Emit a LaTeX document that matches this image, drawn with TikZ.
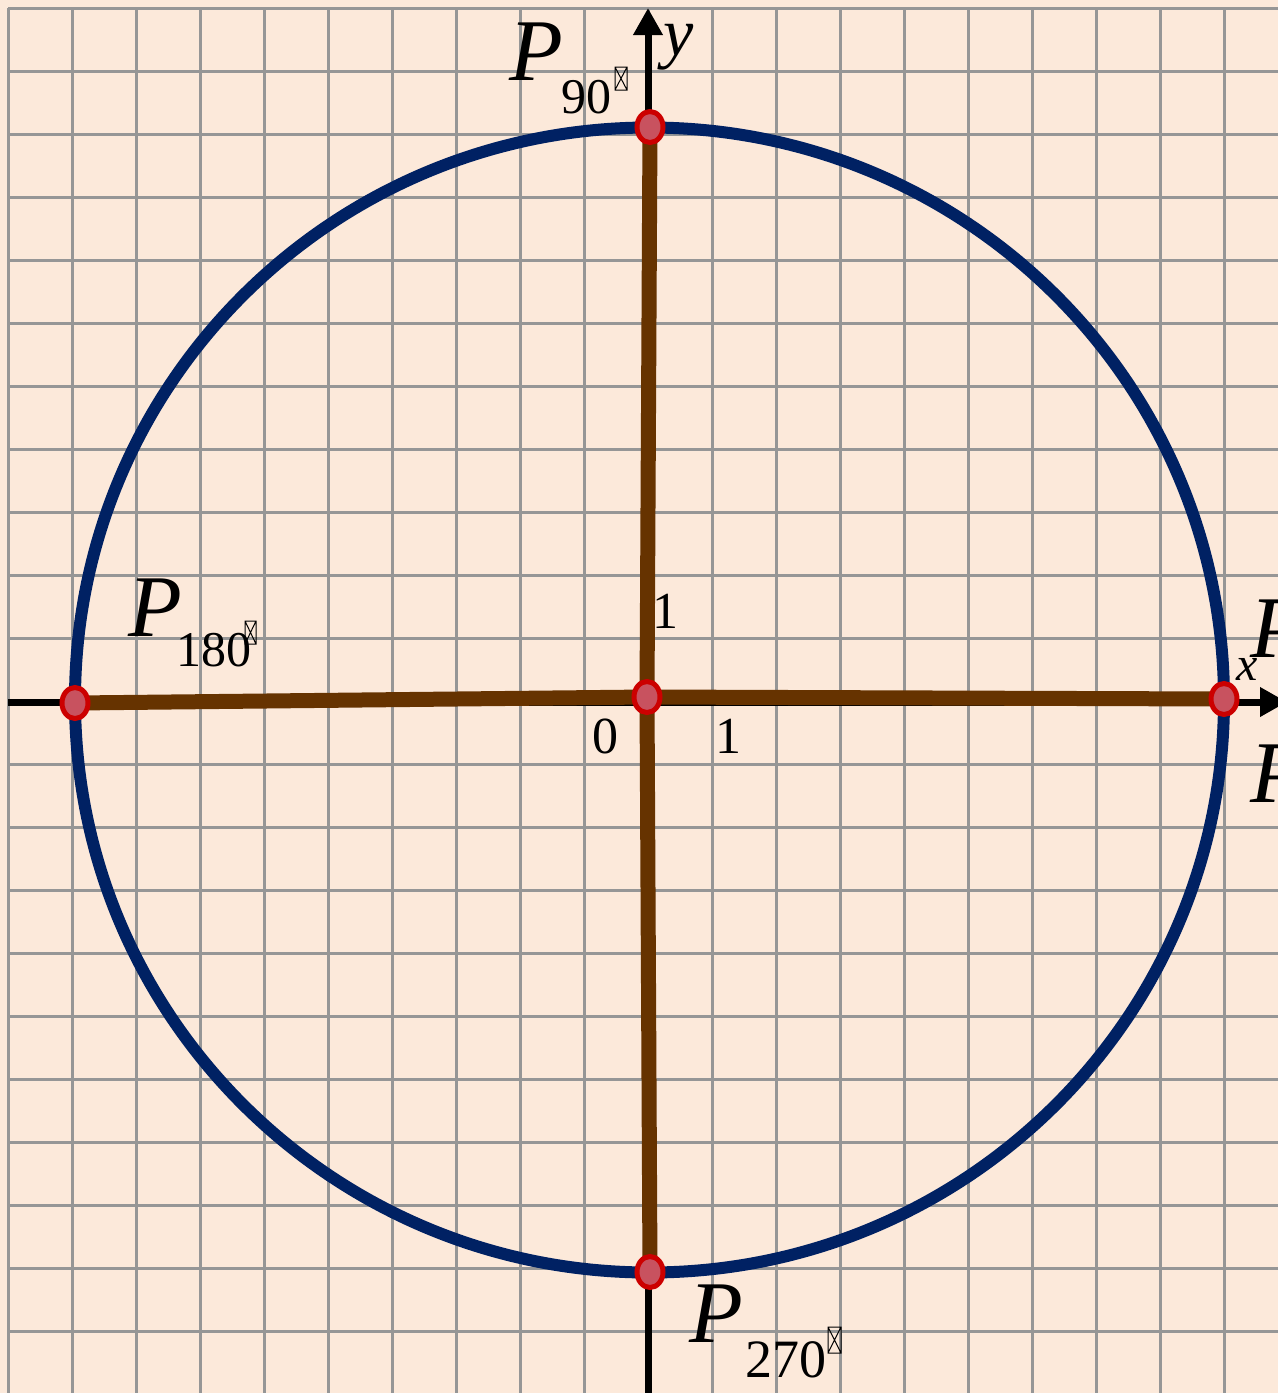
\documentclass[tikz,border=0pt]{standalone}
\usepackage{fontspec}
\setmainfont{Liberation Serif}
\usetikzlibrary{arrows.meta,shapes.geometric}
\definecolor{bgpeach}{RGB}{252,233,218}
\definecolor{gridgray}{RGB}{150,150,150}
\definecolor{navy}{RGB}{0,33,99}
\definecolor{brownline}{RGB}{102,51,0}
\definecolor{ptfill}{RGB}{200,82,95}
\definecolor{ptborder}{RGB}{204,0,0}
\tikzset{
  gridline/.style={draw=gridgray,line width=1.5pt},
  axisline/.style={draw=black,line width=3.5pt,-{Triangle[length=13.5pt,width=14pt]}},
  unitcirc/.style={draw=navy,line width=6pt},
  radius line/.style={draw=brownline,line width=7.5pt},
  ptmark/.style={ellipse,fill=ptfill,draw=ptborder,line width=2.5pt,minimum width=13pt,minimum height=15.5pt,inner sep=0pt},
  bigP/.style={anchor=base west,inner sep=0pt,font=\fontsize{44}{44}\selectfont\itshape},
  subnum/.style={anchor=base west,inner sep=0pt,font=\fontsize{25}{25}\selectfont},
  ticknum/.style={anchor=base,inner sep=0pt,font=\fontsize{26}{26}\selectfont},
  axlabel/.style={anchor=base,inner sep=0pt,font=\itshape},
  tofu/.style={draw=black,line width=0.5pt}
}
\begin{document}
\begin{tikzpicture}[x=0.5pt,y=-0.5pt]
\useasboundingbox (0,0) rectangle (1278,1393);
\fill[bgpeach] (0,0) rectangle (1278,1393);
% grid
\foreach \k in {0,...,21} {\draw[gridline] (8,8+63*\k) -- (1280,8+63*\k);}
\foreach \k in {0,...,19} {\draw[gridline] (8+64*\k,8) -- (8+64*\k,1395);}
% axes
\coordinate (xs) at (8,702);
\coordinate (xe) at (1287,702);
\coordinate (ys) at (648,1395);
\coordinate (ye) at (648,8);
\draw[axisline] (xs) -- (xe);
\draw[axisline] (ys) -- (ye);
% circle
\draw[unitcirc] (649.5,700) ellipse [x radius=574.5, y radius=572.5];
% point positions
\coordinate (O) at (647,697);
\coordinate (P0) at (1224,699);
\coordinate (P90) at (650,127);
\coordinate (P180) at (75,703);
\coordinate (P270) at (650,1272);
% radius lines
\draw[radius line] (P90) -- (O);
\draw[radius line] (P270) -- (O);
\draw[radius line] (P180) -- (O);
\draw[radius line] (P0) -- (O);
% points
\node[ptmark] (mO) at (O) {};
\node[ptmark] (mP0) at (P0) {};
\node[ptmark] (mP90) at (P90) {};
\node[ptmark] (mP180) at (P180) {};
\node[ptmark] (mP270) at (P270) {};
% labels
\node[bigP] (lP90) at (509,80) {P};
\node[subnum] (s90) at (561,113) {90};
\draw[tofu] (615,67) rectangle (627,90) (615,67) -- (627,90) (627,67) -- (615,90);
\node[bigP] (lP180) at (128,636) {P};
\node[subnum] (s180) at (176,666) {180};
\draw[tofu] (245,621) rectangle (256,644) (245,621) -- (256,644) (256,621) -- (245,644);
\node[bigP] (lP270) at (689,1342) {P};
\node[subnum,font=\fontsize{27}{27}\selectfont] (s270) at (745,1377) {270};
\draw[tofu] (828,1327) rectangle (841,1353) (828,1327) -- (841,1353) (841,1327) -- (828,1353);
\node[bigP] (lP0) at (1250,657) {P};
\node[bigP] (lP360) at (1250,802) {P};
\node[axlabel,font=\fontsize{34}{34}\selectfont\itshape] (ylab) at (679,55) {y};
\node[axlabel,font=\fontsize{24}{24}\selectfont\itshape] (xlab) at (1247,680) {x};
\node[ticknum] (t1y) at (665,628) {1};
\node[ticknum] (t0) at (605,753) {0};
\node[ticknum] (t1x) at (728,753) {1};
\end{tikzpicture}
\end{document}
